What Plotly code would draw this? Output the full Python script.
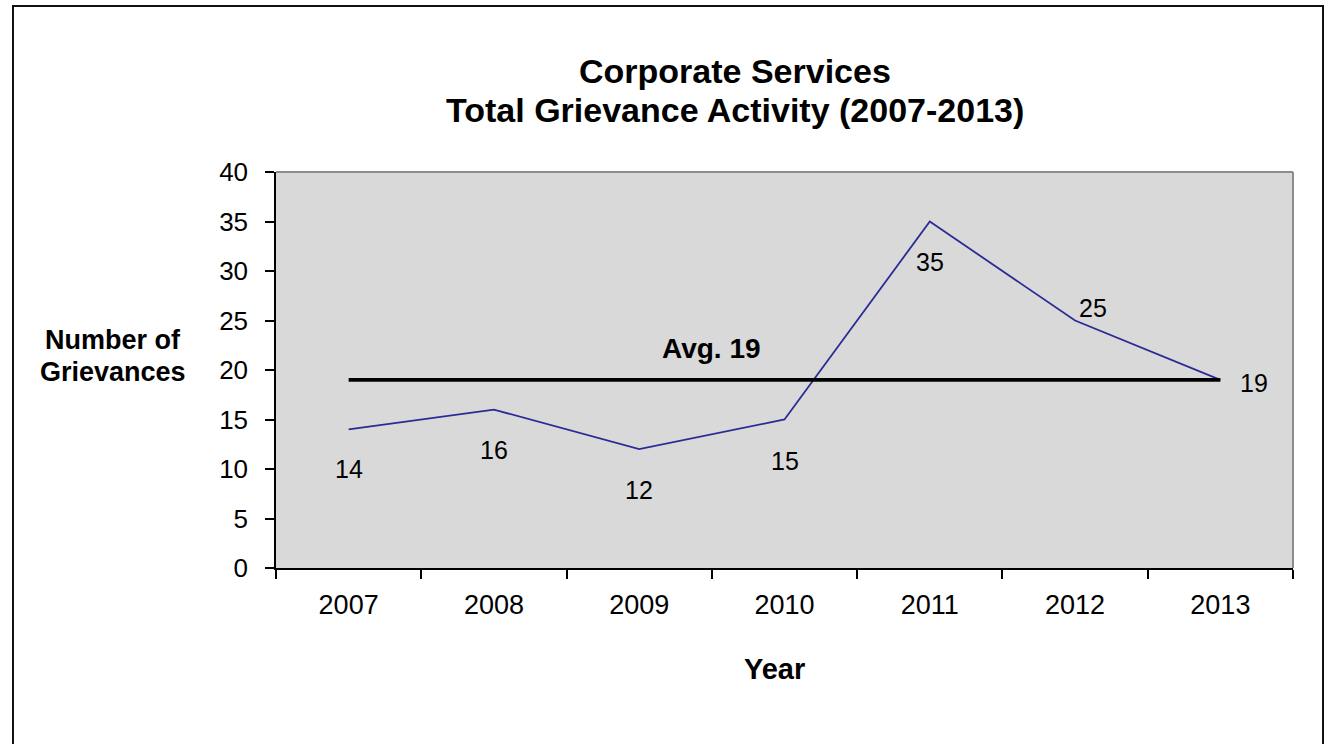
import plotly.graph_objects as go

years = ["2007", "2008", "2009", "2010", "2011", "2012", "2013"]
grievances = [14, 16, 12, 15, 35, 25, 19]
average = 19
avg_label = "Avg. 19"
y_ticks = [0, 5, 10, 15, 20, 25, 30, 35, 40]
title_lines = ["Corporate Services", "Total Grievance Activity (2007-2013)"]
y_title = ["Number of", "Grievances"]
x_title = "Year"

# label offsets (pixels) for each data label
label_dx = [0, 0, 0, 0, 0, 18, 34]
label_dy = [-40, -40, -41, -41, -40, 13, -3]

FONT = "Liberation Sans, Arial, sans-serif"

fig = go.Figure()
fig.add_trace(go.Scatter(
    x=years, y=grievances, mode="lines",
    line=dict(color="#2B2B96", width=1.8),
    hoverinfo="x+y", showlegend=False,
))
fig.add_trace(go.Scatter(
    x=[years[0], years[-1]], y=[average, average], mode="lines",
    line=dict(color="#000000", width=3.8),
    hoverinfo="skip", showlegend=False,
))

for i, v in enumerate(grievances):
    fig.add_annotation(
        x=i, y=v, xref="x", yref="y", text=str(v), showarrow=False,
        xanchor="center", yanchor="middle",
        xshift=label_dx[i], yshift=label_dy[i],
        font=dict(family=FONT, size=25, color="#000000"),
    )

fig.add_annotation(
    x=2.5, y=average, xref="x", yref="y", text=f"<b>{avg_label}</b>",
    showarrow=False, yshift=31, xanchor="center", yanchor="middle",
    font=dict(family=FONT, size=28, color="#000000"),
)

# title, two lines
for k, line in enumerate(title_lines):
    fig.add_annotation(
        x=0.451, y=1, xref="paper", yref="paper", xanchor="center",
        yanchor="middle", yshift=101 - 39 * k, text=f"<b>{line}</b>",
        showarrow=False,
        font=dict(family=FONT, size=34, color="#000000"),
    )

# y axis title, two lines
for k, line in enumerate(y_title):
    fig.add_annotation(
        x=-0.1607, y=0.535, xref="paper", yref="paper", xanchor="center",
        yanchor="middle", yshift=16 - 32 * k, text=f"<b>{line}</b>",
        showarrow=False,
        font=dict(family=FONT, size=27, color="#000000"),
    )

fig.add_annotation(
    x=0.4897, y=0, xref="paper", yref="paper", xanchor="center",
    yanchor="middle", yshift=-101, text=f"<b>{x_title}</b>",
    showarrow=False,
    font=dict(family=FONT, size=29, color="#000000"),
)

# chart frame (Excel chart border)
fig.add_shape(type="rect", xref="paper", yref="paper",
              x0=-0.2586, x1=1.0295, y0=-0.45, y1=1.419,
              line=dict(color="#111111", width=2), fillcolor="rgba(0,0,0,0)",
              layer="below")

fig.update_layout(
    width=1330, height=744,
    margin=dict(l=276, r=37, t=172, b=176),
    paper_bgcolor="#FFFFFF",
    plot_bgcolor="#D9D9D9",
    font=dict(family=FONT, color="#000000"),
    xaxis=dict(
        type="category", tickson="boundaries",
        ticks="outside", ticklen=9, tickwidth=1.5, tickcolor="#000000",
        showline=True, linecolor="#000000", linewidth=1.5,
        showgrid=False, zeroline=False,
        tickfont=dict(family=FONT, size=27, color="#000000"),
        range=[-0.5, len(years) - 0.5],
        ticklabelstandoff=12,
    ),
    yaxis=dict(
        range=[0, 40], tickvals=y_ticks,
        ticks="outside", ticklen=9, tickwidth=1.5, tickcolor="#000000",
        showline=True, linecolor="#000000", linewidth=1.5,
        showgrid=False, zeroline=False,
        tickfont=dict(family=FONT, size=26, color="#000000"),
        ticklabelstandoff=12,
    ),
    showlegend=False,
)

# gray plot-area border on top and right
fig.add_shape(type="line", xref="paper", yref="paper", x0=0, x1=1, y0=1, y1=1,
              line=dict(color="#8C8C8C", width=2))
fig.add_shape(type="line", xref="paper", yref="paper", x0=1, x1=1, y0=0, y1=1,
              line=dict(color="#8C8C8C", width=2))

fig.write_html(
    "out.html",
    config={"displayModeBar": False},
    post_script="document.body.style.margin='0';document.body.style.overflow='hidden';",
)
